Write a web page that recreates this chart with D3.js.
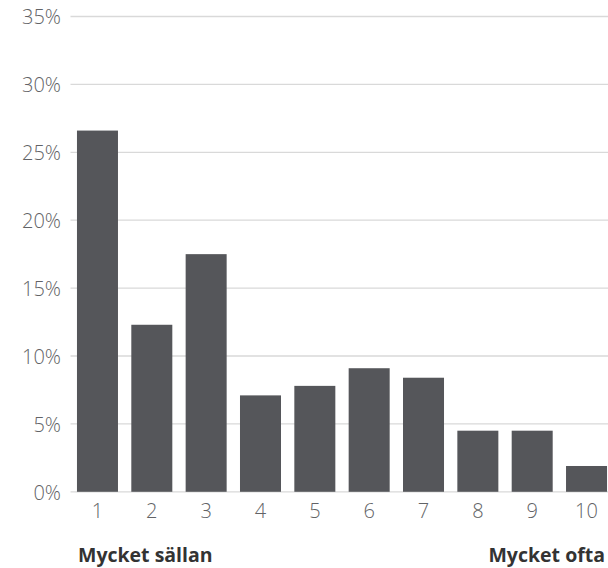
<!DOCTYPE html>
<html>
<head>
<meta charset="utf-8">
<script src="https://cdn.jsdelivr.net/npm/d3@7"></script>
<style>
  html, body { margin: 0; padding: 0; background: #fff; }
  svg { display: block; }
</style>
</head>
<body>
<svg id="chart" width="608" height="568"></svg>
<script>
// Answer scale 1–10 and share of respondents (%)
const categories = ["1", "2", "3", "4", "5", "6", "7", "8", "9", "10"];
const shares = [26.6, 12.3, 17.5, 7.1, 7.8, 9.1, 8.4, 4.5, 4.5, 1.9];
const yTicks = [0, 5, 10, 15, 20, 25, 30, 35];
const endLabels = ["Mycket sällan", "Mycket ofta"];

const svg = d3.select("#chart");
const W = 608;

const y = d3.scaleLinear().domain([0, 35]).range([491.8, 16.5]);
const x = d3.scaleBand()
  .domain(categories)
  .range([70.3, 613.7])
  .paddingInner(0.2454)
  .paddingOuter(0.1227);

// Horizontal gridlines
svg.append("g")
  .selectAll("line")
  .data(yTicks)
  .join("line")
  .attr("x1", 70.5)
  .attr("x2", W)
  .attr("y1", d => y(d))
  .attr("y2", d => y(d))
  .attr("stroke", "#d9d9d9")
  .attr("stroke-width", 1.3);

// Y axis labels
const yAxis = d3.axisLeft(y)
  .tickValues(yTicks)
  .tickFormat(d => d + "%")
  .tickSize(0)
  .tickPadding(0);
svg.append("g")
  .attr("transform", "translate(61,0)")
  .call(yAxis)
  .call(g => g.select(".domain").remove())
  .call(g => g.selectAll("text")
    .attr("fill", "#626366")
    .attr("font-family", "'Open Sans', sans-serif")
    .attr("font-weight", 300)
    .attr("font-size", 20)
    .attr("dy", "0.36em"));

// Bars
svg.append("g")
  .selectAll("rect")
  .data(shares)
  .join("rect")
  .attr("x", (d, i) => x(categories[i]))
  .attr("width", x.bandwidth())
  .attr("y", d => y(d))
  .attr("height", d => y(0) - y(d))
  .attr("fill", "#55565a");

// X axis labels
const xAxis = d3.axisBottom(x).tickSize(0).tickPadding(0);
svg.append("g")
  .attr("transform", "translate(0,496)")
  .call(xAxis)
  .call(g => g.select(".domain").remove())
  .call(g => g.selectAll("text")
    .attr("fill", "#626366")
    .attr("font-family", "'Open Sans', sans-serif")
    .attr("font-weight", 300)
    .attr("font-size", 20)
    .attr("dy", "1.1em"));

// Scale end labels
const endStyle = sel => sel
  .attr("y", 561.5)
  .attr("fill", "#333333")
  .attr("font-family", "'Open Sans', sans-serif")
  .attr("font-weight", 700)
  .attr("font-size", 19.5);

svg.append("text")
  .call(endStyle)
  .attr("x", 78)
  .attr("text-anchor", "start")
  .text(endLabels[0]);

svg.append("text")
  .call(endStyle)
  .attr("x", 605)
  .attr("text-anchor", "end")
  .text(endLabels[1]);
</script>
</body>
</html>
